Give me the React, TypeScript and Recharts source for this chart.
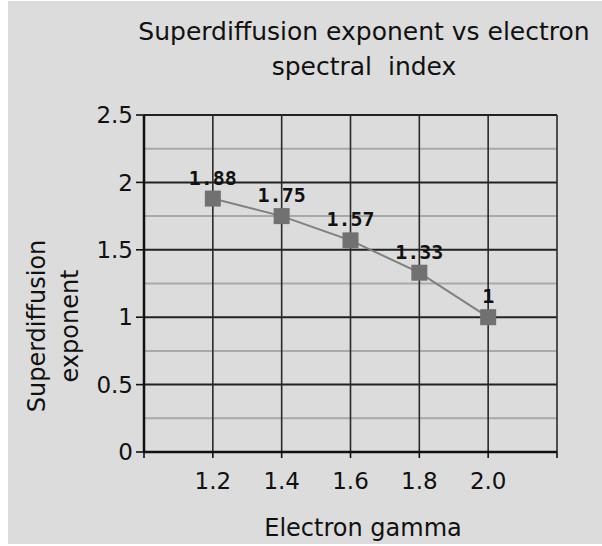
import React from 'react';
import { LineChart, Line, XAxis, YAxis, ReferenceLine, LabelList } from 'recharts';

const gammaValues = [1.2, 1.4, 1.6, 1.8, 2.0];
const exponentValues = [1.88, 1.75, 1.57, 1.33, 1.0];
const exponentLabels = ['1.88', '1.75', '1.57', '1.33', '1'];
const xTicks = [1.0, 1.2, 1.4, 1.6, 1.8, 2.0, 2.2];
const xTickLabels = ['', '1.2', '1.4', '1.6', '1.8', '2.0', ''];
const yTicks = [0, 0.5, 1, 1.5, 2, 2.5];
const yTickLabels = ['0', '0.5', '1', '1.5', '2', '2.5'];
const yMinorGrid = [0.25, 0.75, 1.25, 1.75, 2.25];
const xGrid = [1.2, 1.4, 1.6, 1.8, 2.0, 2.2];

const titleLines = ['Superdiffusion exponent vs electron', 'spectral  index'];
const yTitleLines = ['Superdiffusion', 'exponent'];
const xTitle = 'Electron gamma';

const data = gammaValues.map((g, i) => ({ x: g, y: exponentValues[i], label: exponentLabels[i] }));

const FONT = 'DejaVu Sans';

const SquareDot = (props: any) => {
  const { cx, cy } = props;
  if (cx == null || cy == null) return null;
  return <rect x={cx - 8} y={cy - 8} width={16} height={16} fill="#717171" />;
};

const renderLabel = (props: any) => {
  const { x, y, width, value, index } = props;
  const cx = x + (width || 0) / 2;
  return (
    <text
      x={cx}
      y={y - 14}
      textAnchor="middle"
      fontFamily="DejaVu Sans Mono"
      fontWeight="bold"
      fontSize={20}
      fill="#111"
    >
      {exponentLabels[index] ?? value}
    </text>
  );
};

export default function App() {
  return (
    <div style={{ position: 'absolute', left: 0, top: 0, width: 602, height: 546, background: '#ffffff' }}>
      <div style={{ position: 'absolute', left: 8, top: 1, width: 594, height: 543, background: '#dcdcdc' }}>
        <LineChart
          width={594}
          height={543}
          data={data}
          margin={{ top: 114, right: 45, bottom: 42, left: 0 }}
        >
          {yMinorGrid.map((v) => (
            <ReferenceLine key={'m' + v} y={v} stroke="#a9a9a9" strokeWidth={2} />
          ))}
          {yTicks.slice(1).map((v) => (
            <ReferenceLine key={'M' + v} y={v} stroke="#222222" strokeWidth={2} />
          ))}
          {xGrid.map((v) => (
            <ReferenceLine key={'v' + v} x={v} stroke="#2a2a2a" strokeWidth={1.6} />
          ))}
          <XAxis
            dataKey="x"
            type="number"
            domain={[1.0, 2.2]}
            ticks={xTicks}
            interval={0}
            height={50}
            tickFormatter={(v: number) => {
              const i = xTicks.findIndex((t) => Math.abs(t - v) < 1e-6);
              return i >= 0 ? xTickLabels[i] : '';
            }}
            axisLine={{ stroke: '#111', strokeWidth: 2.5 }}
            tickLine={{ stroke: '#111', strokeWidth: 1.6 }}
            tickSize={6}
            tickMargin={15}
            tick={{ fill: '#111', fontSize: 23, fontFamily: FONT }}
          />
          <YAxis
            type="number"
            domain={[0, 2.5]}
            ticks={yTicks}
            interval={0}
            width={136}
            tickFormatter={(v: number) => {
              const i = yTicks.findIndex((t) => Math.abs(t - v) < 1e-6);
              return i >= 0 ? yTickLabels[i] : '';
            }}
            axisLine={{ stroke: '#111', strokeWidth: 2.5 }}
            tickLine={{ stroke: '#111', strokeWidth: 1.6 }}
            tickSize={8}
            tickMargin={3}
            tick={{ fill: '#111', fontSize: 23, fontFamily: FONT }}
          />
          <Line
            type="linear"
            dataKey="y"
            stroke="#808080"
            strokeWidth={2}
            dot={<SquareDot />}
            activeDot={false}
            isAnimationActive={false}
          >
            <LabelList dataKey="y" content={renderLabel} />
          </Line>
        </LineChart>
      </div>
      <svg
        width={602}
        height={546}
        style={{ position: 'absolute', left: 0, top: 0, pointerEvents: 'none' }}
      >
        <text x={364} y={40} textAnchor="middle" fontFamily={FONT} fontSize={25} fill="#111">
          {titleLines[0]}
        </text>
        <text x={364} y={75} textAnchor="middle" fontFamily={FONT} fontSize={25} fill="#111" style={{ whiteSpace: 'pre' }}>
          {titleLines[1]}
        </text>
        <text
          x={45}
          y={326}
          textAnchor="middle"
          fontFamily={FONT}
          fontSize={24}
          fill="#111"
          transform="rotate(-90 45 326)"
        >
          {yTitleLines[0]}
        </text>
        <text
          x={78}
          y={326}
          textAnchor="middle"
          fontFamily={FONT}
          fontSize={24}
          fill="#111"
          transform="rotate(-90 78 326)"
        >
          {yTitleLines[1]}
        </text>
        <text x={363} y={536} textAnchor="middle" fontFamily={FONT} fontSize={24} fill="#111">
          {xTitle}
        </text>
      </svg>
    </div>
  );
}
